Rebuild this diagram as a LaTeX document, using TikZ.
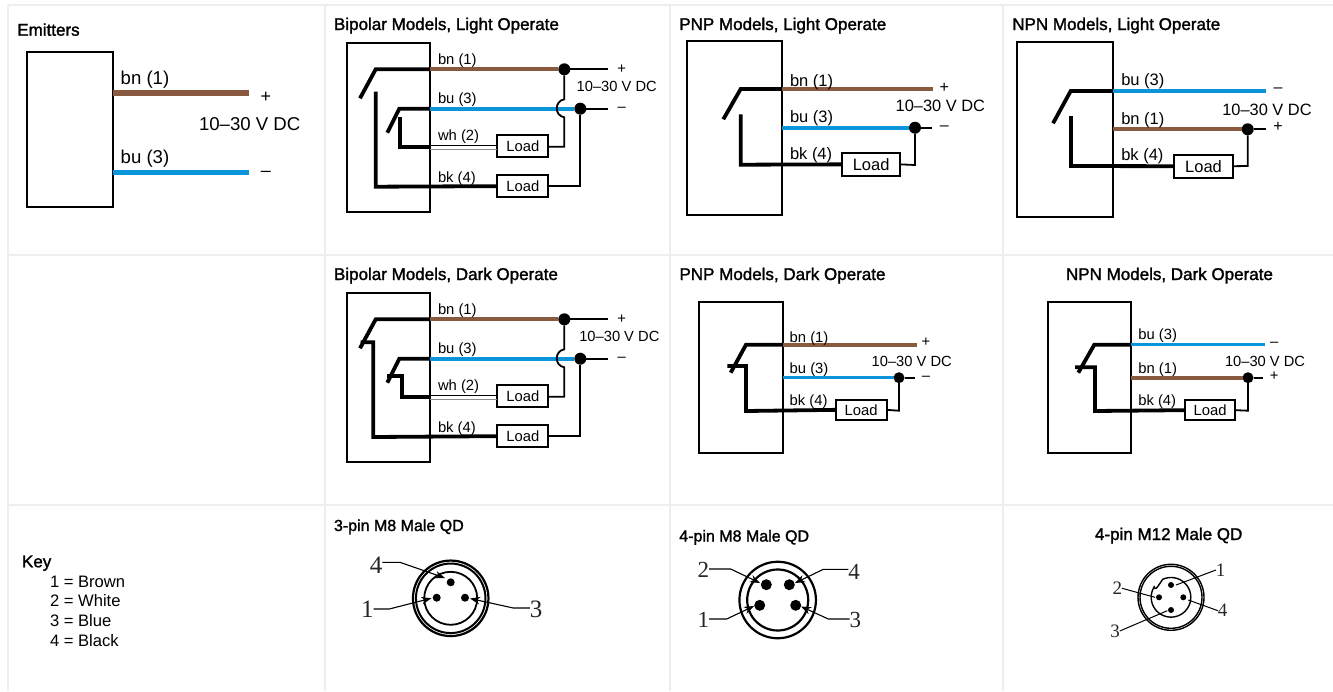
\documentclass[tikz,border=0pt]{standalone}
\usepackage{fontspec}
\usetikzlibrary{arrows.meta}
\setmainfont{Liberation Sans}
\newfontfamily\lsans{Liberation Sans}
\newfontfamily\ltitle[FakeBold=1.6]{Liberation Sans}
\newfontfamily\lserif{Liberation Serif}
\definecolor{wbrown}{HTML}{8A5A40}
\definecolor{wblue}{HTML}{0A95DA}
\definecolor{grid}{HTML}{EEEEEE}
\definecolor{wgrey}{HTML}{8C8C8C}
\tikzset{
 txt/.style={inner sep=0,outer sep=0,text=black,font=\lsans\fontsize{#1}{#1}\selectfont},
 lb/.style={txt=#1,anchor=base west},
 mid/.style={txt=#1,anchor=center},
 ttl/.style={inner sep=0,outer sep=0,anchor=base west,text=black,font=\ltitle\fontsize{17}{17}\selectfont},
 ttlsmall/.style={ttl,font=\ltitle\fontsize{16}{16}\selectfont},
 gridline/.style={draw=grid,line width=2},
 sensbox/.style={draw=black,line width=2,inner sep=0,outer sep=0},
 loadbox/.style={draw=black,fill=white,line width=2,inner sep=0,outer sep=0,text=black},
 blk/.style={draw=black,line width=3.8,line join=miter},
 thn/.style={draw=black,line width=1.8},
 wirebn/.style={draw=wbrown,line width=#1},
 wirebn/.default=3.8,
 wirebu/.style={draw=wblue,line width=#1},
 wirebu/.default=3.8,
 dot/.style={circle,fill=black,inner sep=0,outer sep=0,minimum size=#1},
 dot/.default=12,
 pin/.style={circle,fill=black,inner sep=0,outer sep=0,minimum size=#1},
 ring/.style={circle,draw=black,inner sep=0,outer sep=0,line width=#1},
 lead/.style={draw=black,line width=1.1,-{Stealth[length=10,width=7.5]}},
 leadplain/.style={draw=black,line width=1},
 pn/.style={inner sep=0,outer sep=0,text=black!85,font=\lserif\fontsize{#1}{#1}\selectfont},
}
% box from corners: name, x1,y1,x2,y2
\newcommand\mkbox[7][sensbox]{%
 \pgfmathsetmacro\bw{#5-#3}\pgfmathsetmacro\bh{#6-#4}%
 \pgfmathsetmacro\bcx{(#5+#3)/2}\pgfmathsetmacro\bcy{(#6+#4)/2}%
 \node[#1,minimum width=\bw pt,minimum height=\bh pt] (#2) at (\bcx,\bcy) {#7};}
\newcommand\loadtxt[1]{{\lsans\fontsize{#1}{#1}\selectfont Load}}
\begin{document}
\begin{tikzpicture}[x=1pt,y=-1pt]
\useasboundingbox (0,0) rectangle (1333,691);
\fill[white] (0,0) rectangle (1333,691);
% grid
\draw[gridline] (8,5) -- (1333,5);
\draw[gridline] (8,255) -- (1333,255);
\draw[gridline] (8,505) -- (1333,505);
\draw[gridline] (8,5) -- (8,691);
\draw[gridline] (325,5) -- (325,691);
\draw[gridline] (670,5) -- (670,691);
\draw[gridline] (1003,5) -- (1003,691);

% ---------- Emitters
\node[ttl] (tE) at (17.3,35.7) {Emitters};
\mkbox{eB}{27.3}{51.7}{112.7}{207}{}
\coordinate (e1) at (249.3,93); \coordinate (e2) at (249.3,172.3);
\draw[wirebn=5.5] (eB.east |- e1) -- (e1);
\draw[wirebu=5.5] (eB.east |- e2) -- (e2);
\node[lb=18.6] (eL1) at (120.7,84.3) {bn (1)};
\node[lb=18.6] (eL2) at (120.7,163.3) {bu (3)};
\node[mid=18] (eP) at (266,97.3) {+};
\node[mid=18] (eM) at (266,173.7) {–};
\node[lb=18.6] (eV) at (199,130.7) {10–30 V DC};

% ---------- Bipolar (two rows)
\foreach \pre/\dy/\vx/\vb/\ttlt in {a/0/576.7/91.7/{Bipolar Models, Light Operate},b/250/579.3/91/{Bipolar Models, Dark Operate}}{
 \begin{scope}[yshift=-\dy pt]
 \node[ttl] (\pre T) at (334,30) {\ttlt};
 \mkbox{\pre B}{347}{43.3}{430}{212}{}
 \coordinate (\pre S1) at (375.7,69.3);
 \coordinate (\pre S2) at (399.3,108.7);
 \node[dot] (\pre D1) at (564.3,69.3) {};
 \node[dot] (\pre D2) at (580.3,108.7) {};
 \coordinate (\pre E1) at (607.7,69.3);
 \coordinate (\pre E2) at (607.7,108.7);
 \mkbox[loadbox]{\pre L1}{497.3}{135.3}{548.3}{157.3}{\loadtxt{14.8}}
 \mkbox[loadbox]{\pre L2}{497.3}{175}{548.3}{197.3}{\loadtxt{14.8}}
 \draw[blk] (360,98.3) -- (\pre S1) -- (\pre B.east |- \pre S1);
 \draw[blk] (387.3,132.7) -- (\pre S2) -- (\pre B.east |- \pre S2);
 \draw[wirebn] (\pre B.east |- \pre S1) -- (\pre D1);
 \draw[wirebu] (\pre B.east |- \pre S2) -- (\pre D2);
 \draw[thn] (\pre D1) -- (\pre E1);
 \draw[thn] (\pre D2) -- (\pre E2);
 \draw[thn] (\pre D1) -- (564.3,99.3) .. controls (554.2,101) and (554.2,115.6) .. (564.3,117.3) -- (564.3,146.7) -- (\pre L1.east |- 0,146.7);
 \draw[thn] (\pre D2) -- (580.3,186.3) -- (\pre L2.east |- 0,186.3);
 \draw[draw=black,line width=1.2] (\pre B.east |- 0,145.4) -- (\pre L1.west |- 0,145.4);
 \draw[draw=wgrey,line width=1.5] (\pre B.east |- 0,149.3) -- (\pre L1.west |- 0,149.3);
 \node[lb=14.8] (\pre n1) at (438,64) {bn (1)};
 \node[lb=14.8] (\pre n2) at (438,103) {bu (3)};
 \node[lb=14.8] (\pre n3) at (438,140) {wh (2)};
 \node[lb=14.8] (\pre n4) at (438,182) {bk (4)};
 \node[mid=14.8] (\pre P) at (621.7,69) {+};
 \node[mid=14.8] (\pre M) at (621.7,109) {–};
 \node[lb=14.7] (\pre V) at (\vx,\vb) {10–30 V DC};
 \end{scope}
}
% bipolar contacts
\draw[blk] (375.7,91.7) -- (375.7,186.7) -- (aL2.west);
\draw[blk] (400.3,116.7) -- (400.3,147) -- (aB.east |- 0,147);
\draw[blk] (360.7,342.3) -- (373.3,342.3) -- (373.3,437) -- (bL2.west);
\draw[blk] (387.3,376) -- (401.7,376) -- (401.7,397) -- (bB.east |- 0,397);

% ---------- PNP Light
\node[ttl] (cT) at (679.3,30) {PNP Models, Light Operate};
\mkbox{cB}{687.3}{40.7}{782}{214.7}{}
\coordinate (cS) at (740.7,89); \coordinate (cE1) at (933.3,89);
\node[dot] (cD) at (915,127.7) {}; \coordinate (cE2) at (932.3,127.7);
\mkbox[loadbox]{cL}{842.3}{153}{900}{175.7}{\loadtxt{16.5}}
\draw[blk] (723.3,119.3) -- (cS) -- (cB.east |- cS);
\draw[wirebn] (cB.east |- cS) -- (cE1);
\draw[wirebu] (cB.east |- cD) -- (cD);
\draw[thn] (cD) -- (cE2);
\draw[blk] (740.7,114.3) -- (740.7,164.7) -- (cL.west);
\draw[thn] (cD) -- (915,165) -- (cL.east);
\node[lb=16.5] (cn1) at (790,86.7) {bn (1)};
\node[lb=16.5] (cn2) at (790,122.3) {bu (3)};
\node[lb=16.5] (cn3) at (790,159.3) {bk (4)};
\node[mid=16] (cP) at (944.3,87.7) {+};
\node[mid=16] (cM) at (944.3,128) {–};
\node[lb=16.4] (cV) at (895.7,111.7) {10–30 V DC};

% ---------- NPN Light
\node[ttl] (dT) at (1012.3,30) {NPN Models, Light Operate};
\mkbox{dB}{1017}{42}{1113.3}{216.7}{}
\coordinate (dS) at (1070.7,91); \coordinate (dE1) at (1266.3,91);
\node[dot] (dD) at (1247.7,129.3) {}; \coordinate (dE2) at (1265.7,129.3);
\mkbox[loadbox]{dL}{1174}{154.7}{1233}{177.7}{\loadtxt{16.5}}
\draw[blk] (1053,123.3) -- (dS) -- (dB.east |- dS);
\draw[wirebu] (dB.east |- dS) -- (dE1);
\draw[wirebn] (dB.east |- dD) -- (dD);
\draw[thn] (dD) -- (dE2);
\draw[blk] (1071,116) -- (1071,166) -- (dL.west);
\draw[thn] (dD) -- (1247.7,166) -- (dL.east);
\node[lb=16.5] (dn1) at (1121.3,85) {bu (3)};
\node[lb=16.5] (dn2) at (1121.3,124) {bn (1)};
\node[lb=16.5] (dn3) at (1121.3,160.7) {bk (4)};
\node[mid=16] (dM) at (1278,90) {–};
\node[mid=16] (dP) at (1278,127.3) {+};
\node[lb=16.4] (dV) at (1222.3,115) {10–30 V DC};

% ---------- PNP Dark
\node[ttl] (eT) at (679.5,280) {PNP Models, Dark Operate};
\mkbox{fB}{699.3}{302}{782.7}{453.3}{}
\coordinate (fS) at (746,344.7); \coordinate (fE1) at (916.7,344.7);
\node[dot=11] (fD) at (899,377.7) {}; \coordinate (fE2) at (915,377.7);
\mkbox[loadbox]{fL}{835.7}{399.7}{886.7}{420}{\loadtxt{14.8}}
\draw[blk] (730.7,372.7) -- (fS) -- (fB.east |- fS);
\draw[wirebn] (fB.east |- fS) -- (fE1);
\draw[wirebu=3.2] (fB.east |- fD) -- (fD);
\draw[thn] (fD) -- (fE2);
\draw[blk] (727.3,366) -- (746,366) -- (746,411) -- (fL.west);
\draw[thn] (fD) -- (899,410.7) -- (fL.east);
\node[lb=14.8] (fn1) at (789.7,342.3) {bn (1)};
\node[lb=14.8] (fn2) at (789.7,373.7) {bu (3)};
\node[lb=14.8] (fn3) at (789.7,405.3) {bk (4)};
\node[mid=14.8] (fP) at (926,342.3) {+};
\node[mid=14.8] (fM) at (926,378) {–};
\node[lb=14.7] (fV) at (871.7,366) {10–30 V DC};

% ---------- NPN Dark
\node[ttl] (gT) at (1066,280) {NPN Models, Dark Operate};
\mkbox{gB}{1047.7}{302}{1131.3}{453.3}{}
\coordinate (gS) at (1094.3,344.7); \coordinate (gE1) at (1265,344.7);
\node[dot=11] (gD) at (1248,377.7) {}; \coordinate (gE2) at (1263.3,377.7);
\mkbox[loadbox]{gL}{1185}{400}{1235.3}{420.3}{\loadtxt{14.8}}
\draw[blk] (1078.3,372.7) -- (gS) -- (gB.east |- gS);
\draw[wirebu=3.2] (gB.east |- gS) -- (gE1);
\draw[wirebn] (gB.east |- gD) -- (gD);
\draw[thn] (gD) -- (gE2);
\draw[blk] (1075,367.3) -- (1095,367.3) -- (1095,411) -- (gL.west);
\draw[thn] (gD) -- (1248,410.7) -- (gL.east);
\node[lb=14.8] (gn1) at (1138.3,339) {bu (3)};
\node[lb=14.8] (gn2) at (1138.3,373.7) {bn (1)};
\node[lb=14.8] (gn3) at (1138.3,405.3) {bk (4)};
\node[mid=14.8] (gM) at (1274.3,344) {–};
\node[mid=14.8] (gP) at (1274.3,376) {+};
\node[lb=14.7] (gV) at (1225,366.7) {10–30 V DC};

% ---------- Key
\node[ttl] (kT) at (22,567.3) {Key};
\node[lb=16.6] (k1) at (50,587.3) {1 = Brown};
\node[lb=16.6] (k2) at (50,606.7) {2 = White};
\node[lb=16.6] (k3) at (50,626) {3 = Blue};
\node[lb=16.6] (k4) at (50,646) {4 = Black};

% ---------- 3-pin M8
\node[ttlsmall] (hT) at (334,531) {3-pin M8 Male QD};
\node[ring=2.2,minimum size=75.5] (hR1) at (450.7,598.3) {};
\node[ring=2,minimum size=69.5] (hR2) at (450.7,598.3) {};
\node[ring=1.8,minimum size=53] (hR3) at (450.7,598.3) {};
\node[pin=8] (h4) at (450.7,582.3) {};
\node[pin=8] (h1) at (436.7,597.7) {};
\node[pin=8] (h3) at (465,597.7) {};
\node[pn=25] (hn4) at (376,565) {4};
\node[pn=25] (hn1) at (367.3,609.3) {1};
\node[pn=25] (hn3) at (536,609) {3};
\draw[lead] (hn4.east |- 0,562.3) -- (400,562.3) -- (445,578);
\draw[lead] (hn1.east |- 0,609) -- (389.3,609) -- (431.5,598.2);
\draw[lead] (hn3.west |- 0,608) -- (513.3,608) -- (470,598.5);

% ---------- 4-pin M8
\node[ttlsmall] (iT) at (679.3,541.5) {4-pin M8 Male QD};
\node[ring=2.2,minimum size=76.5] (iR1) at (777.7,600) {};
\node[ring=2.2,minimum size=61] (iR2) at (777.7,600) {};
\node[pin=11] (i2) at (766.3,584.7) {};
\node[pin=11] (i4) at (789.3,584.7) {};
\node[pin=11] (i1) at (759.7,605.3) {};
\node[pin=11] (i3) at (795.7,605.3) {};
\node[pn=23] (in2) at (703.3,570) {2};
\node[pn=23] (in4) at (854,571.7) {4};
\node[pn=23] (in1) at (703.3,620) {1};
\node[pn=23] (in3) at (855.3,620) {3};
\draw[lead] (in2.east |- 0,569) -- (730.7,569) -- (760,583);
\draw[lead] (in4.west |- 0,569.3) -- (823.3,569.3) -- (795,583);
\draw[lead] (in1.east |- 0,619) -- (726.7,619) -- (754,606);
\draw[lead] (in3.west |- 0,619) -- (828.3,619) -- (801,606.5);

% ---------- 4-pin M12
\node[ttl] (jT) at (1095,540) {4-pin M12 Male QD};
\node[ring=1.4,minimum size=66] (jR1) at (1171,597.3) {};
\node[ring=1.4,minimum size=62] (jR2) at (1171,597.3) {};
\coordinate (jA) at ({1171+19.8*cos(115)},{597.3-19.8*sin(115)});
\draw[black,line width=1.4] plot[domain=115:-212,samples=70] ({1171+19.8*cos(\x)},{597.3-19.8*sin(\x)}) .. controls (1155.5,590) .. (jA);
\node[pin=6] (j1) at (1171,585) {};
\node[pin=6] (j2) at (1159,597.3) {};
\node[pin=6] (j4) at (1183.3,597.3) {};
\node[pin=6] (j3) at (1171,610) {};
\node[pn=19] (jn1) at (1220.7,570) {1};
\node[pn=19] (jn2) at (1117.3,588.3) {2};
\node[pn=19] (jn4) at (1222.7,610.7) {4};
\node[pn=19] (jn3) at (1115,631) {3};
\draw[leadplain] (jn1.west) -- (1176,585);
\draw[leadplain] (jn2.east) -- (1155,597.3);
\draw[leadplain] (jn4.west) -- (1188.3,600);
\draw[leadplain] (jn3.east) -- (1167.3,610.7);
\end{tikzpicture}
\end{document}
